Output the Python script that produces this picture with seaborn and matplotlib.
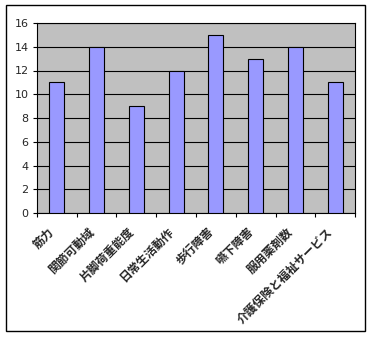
import matplotlib
matplotlib.use("Agg")
import matplotlib.pyplot as plt
import matplotlib.transforms as mtransforms
import seaborn as sns
import pandas as pd
from matplotlib.patches import Rectangle

categories = ["筋力", "関節可動域", "片脚荷重能度", "日常生活動作", "歩行障害",
              "嚥下障害", "服用薬剤数", "介護保険と福祉サービス"]
values = [11, 14, 9, 12, 15, 13, 14, 11]
yticks = [0, 2, 4, 6, 8, 10, 12, 14, 16]

sns.set_theme(style="white")
plt.rcParams['font.family'] = ['Noto Sans CJK JP', 'DejaVu Sans']

df = pd.DataFrame({"cat": categories, "val": values})

fig = plt.figure(figsize=(3.71, 3.38), dpi=100)
ax = fig.add_axes([37/371, 1-213/338, (355-37)/371, (213-23)/338])
ax.set_facecolor("#C0C0C0")
sns.barplot(data=df, x="cat", y="val", ax=ax, color="#9999FF", width=0.38,
            edgecolor="black", linewidth=0.8, saturation=1, zorder=3)
ax.set_ylim(0, 16)
ax.set_xlim(-0.5, len(categories) - 0.5)
ax.set_yticks(yticks)
ax.set_yticklabels([str(t) for t in yticks], fontsize=8, family=['DejaVu Sans'])
ax.yaxis.grid(True, color="black", linewidth=0.8, zorder=1)
ax.set_axisbelow(True)
ax.set_xlabel("")
ax.set_ylabel("")
ax.set_xticks(range(len(categories)))
ax.set_xticklabels(categories, rotation=45, ha="right", rotation_mode="anchor",
                   fontsize=8.5, fontweight="bold")
ax.tick_params(axis="x", length=0, pad=6)
offset = mtransforms.ScaledTranslation(-9/100, -4/100, fig.dpi_scale_trans)
for lbl in ax.get_xticklabels():
    lbl.set_transform(lbl.get_transform() + offset)
ax.tick_params(axis="y", length=3, width=0.8, color="black", left=True, pad=3)
for s in ax.spines.values():
    s.set_color("black")
    s.set_linewidth(0.8)
ax.set_xticks([i - 0.5 for i in range(len(categories) + 1)], minor=True)
ax.tick_params(axis="x", which="minor", length=3, width=0.8, color="black", bottom=True)

fig.patches.append(Rectangle((6/371, 1-331/338), (365-6)/371, (331-5)/338,
                             transform=fig.transFigure, fill=False,
                             edgecolor="black", linewidth=1.0))
fig.savefig("out.png", dpi=100, facecolor="white")
